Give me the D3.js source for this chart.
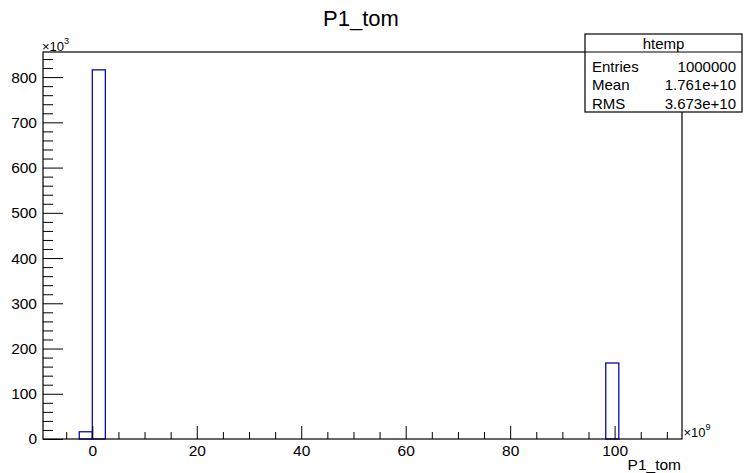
<!DOCTYPE html>
<html>
<head>
<meta charset="utf-8">
<script src="https://cdn.jsdelivr.net/npm/d3@7"></script>
<style>
  html, body { margin: 0; padding: 0; background: #fff; }
  svg text { font-family: "Liberation Sans", Arial, Helvetica, sans-serif; fill: #000; }
</style>
</head>
<body>
<svg id="chart" width="744" height="473"></svg>
<script>
// 直方图数据 (x 单位 1e9, y 单位 1e3)
const binLow = [-2.5, 0, 98.3];
const binHigh = [0, 2.5, 100.8];
const binCounts = [16, 816, 168];

// 坐标轴范围和刻度
const xDomain = [-9.44, 112.9];
const yDomain = [0, 855.5];
const xMajor = [0, 20, 40, 60, 80, 100];
const yMajor = [0, 100, 200, 300, 400, 500, 600, 700, 800];

// 统计框内容
const statsTitle = 'htemp';
const statsNames = ['Entries', 'Mean', 'RMS'];
const statsValues = ['1000000', '1.761e+10', '3.673e+10'];

const histTitle = 'P1_tom';
const xTitle = 'P1_tom';

// 画布边界
const L = 43, R = 682, T = 52, B = 439;

const svg = d3.select('#chart');

const x = d3.scaleLinear().domain(xDomain).range([L, R]);
const y = d3.scaleLinear().domain(yDomain).range([B, T]);

// 次刻度
const xMinor = d3.range(-5, xDomain[1], 5).filter(v => !xMajor.includes(v));
const yMinor = d3.range(0, yDomain[1], 20).filter(v => !yMajor.includes(v));

// 直方图条形 (只描边)
svg.append('g').selectAll('rect')
    .data(binCounts)
    .join('rect')
    .attr('x', (d, i) => x(binLow[i]))
    .attr('y', d => y(d))
    .attr('width', (d, i) => x(binHigh[i]) - x(binLow[i]))
    .attr('height', d => y(0) - y(d))
    .attr('fill', 'none')
    .attr('stroke', '#0a0ab0')
    .attr('stroke-width', 1.3);

// 刻度线 (向内)
const tickGroup = (axis) => {
    const g = svg.append('g').call(axis);
    g.select('.domain').remove();
    g.selectAll('line').attr('stroke', '#000').attr('stroke-width', 1);
    return g;
};
tickGroup(d3.axisRight(y).tickValues(yMajor).tickSize(20).tickFormat(''))
    .attr('transform', `translate(${L},0)`);
tickGroup(d3.axisRight(y).tickValues(yMinor).tickSize(10).tickFormat(''))
    .attr('transform', `translate(${L},0)`);
tickGroup(d3.axisTop(x).tickValues(xMajor).tickSize(13).tickFormat(''))
    .attr('transform', `translate(0,${B})`);
tickGroup(d3.axisTop(x).tickValues(xMinor).tickSize(7).tickFormat(''))
    .attr('transform', `translate(0,${B})`);

// 刻度标签
const yLab = svg.append('g')
    .attr('transform', `translate(${L},0)`)
    .call(d3.axisLeft(y).tickValues(yMajor).tickSize(0).tickPadding(6).tickFormat(d3.format('d')));
yLab.select('.domain').remove();
yLab.selectAll('text').style('font-size', '15.5px').style('font-family', '"Liberation Sans", Arial, sans-serif').attr('fill', '#000');

const xLab = svg.append('g')
    .attr('transform', `translate(0,${B})`)
    .call(d3.axisBottom(x).tickValues(xMajor).tickSize(0).tickPadding(5.5).tickFormat(d3.format('d')));
xLab.select('.domain').remove();
xLab.selectAll('text').style('font-size', '15.5px').style('font-family', '"Liberation Sans", Arial, sans-serif').attr('fill', '#000');

// 外框
svg.append('rect')
    .attr('x', L).attr('y', T)
    .attr('width', R - L).attr('height', B - T)
    .attr('fill', 'none').attr('stroke', '#000').attr('stroke-width', 1.2);

// 指数标记
const expLabel = (px, py, exp) => {
    const t = svg.append('text').attr('x', px).attr('y', py).style('font-size', '13px');
    t.append('tspan').text('\u00d710');
    t.append('tspan').attr('dy', -7).style('font-size', '9px').text(exp);
};
expLabel(L - 1, 50.5, '3');
expLabel(R + 1.5, 436.5, '9');

// 标题
svg.append('text')
    .attr('x', 361).attr('y', 26)
    .attr('text-anchor', 'middle')
    .style('font-size', '22px')
    .text(histTitle);

// x 轴标题
svg.append('text')
    .attr('x', R - 1).attr('y', 469.5)
    .attr('text-anchor', 'end')
    .style('font-size', '15.5px')
    .text(xTitle);

// 统计框
const sx = 585, sy = 34, sw = 157, sh = 78;
const stats = svg.append('g');
stats.append('rect')
    .attr('x', sx).attr('y', sy).attr('width', sw).attr('height', sh)
    .attr('fill', '#fff').attr('stroke', '#000').attr('stroke-width', 1.2);
stats.append('line')
    .attr('x1', sx).attr('x2', sx + sw).attr('y1', T).attr('y2', T)
    .attr('stroke', '#000').attr('stroke-width', 1);
stats.append('text')
    .attr('x', sx + sw / 2).attr('y', 48.5)
    .attr('text-anchor', 'middle')
    .style('font-size', '15px')
    .text(statsTitle);
const rowY = [71.7, 90.2, 108.5];
stats.selectAll('text.name')
    .data(statsNames)
    .join('text')
    .attr('class', 'name')
    .attr('x', 592).attr('y', (d, i) => rowY[i])
    .style('font-size', '15px')
    .text(d => d);
stats.selectAll('text.val')
    .data(statsValues)
    .join('text')
    .attr('class', 'val')
    .attr('x', 736).attr('y', (d, i) => rowY[i])
    .attr('text-anchor', 'end')
    .style('font-size', '15px')
    .text(d => d);
</script>
</body>
</html>
